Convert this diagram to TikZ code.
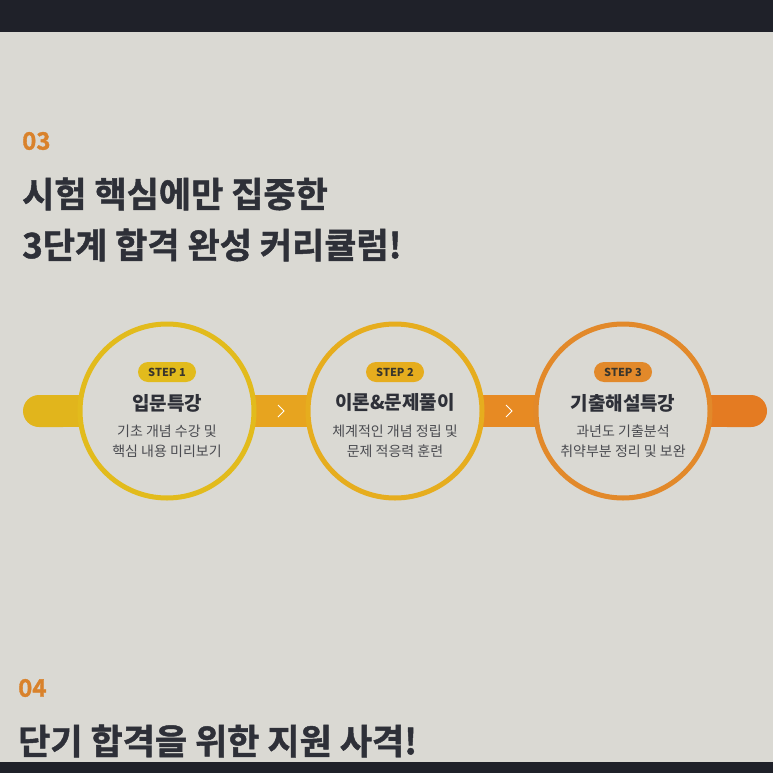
\documentclass[tikz,border=0pt]{standalone}
\usepackage{fontspec}
\newfontfamily\kr{Noto Sans CJK KR}
\newfontfamily\krhead[FakeBold=1.3]{Noto Sans CJK KR Bold}
\usetikzlibrary{arrows.meta,positioning,backgrounds}

\definecolor{screen}{HTML}{DAD9D3}
\definecolor{bezel}{HTML}{1F2129}
\definecolor{ink}{HTML}{2E3038}
\definecolor{numorange}{HTML}{D9822B}
\definecolor{descgray}{HTML}{4A4B50}
\definecolor{badgeink}{HTML}{3A362C}
\definecolor{stepA}{HTML}{E2BB1C}
\definecolor{stepB}{HTML}{E6AD1E}
\definecolor{stepC}{HTML}{E2892A}
\definecolor{barA}{HTML}{E1B51C}
\definecolor{barB}{HTML}{E7A41F}
\definecolor{barC}{HTML}{E78A23}
\definecolor{barD}{HTML}{E47B22}

\begin{document}
\begin{tikzpicture}[
  x=1pt, y=-1pt,
  node distance=49pt,
  ring/.style={circle, draw, line width=5pt, minimum size=174pt, inner sep=0pt},
  badge/.style={rounded corners=10pt, minimum width=58pt, minimum height=20pt, inner sep=0pt, text=badgeink, font=\kr\bfseries\fontsize{11}{11}\selectfont},
  title/.style={inner sep=0pt, text=ink, font=\kr\bfseries\fontsize{19}{19}\selectfont},
  desc/.style={inner sep=0pt, align=center, text=descgray, font=\kr\fontsize{14}{20}\selectfont},
  num/.style={anchor=west, inner sep=0pt, text=numorange, font=\krhead\fontsize{24}{24}\selectfont},
  head/.style={anchor=west, inner sep=0pt, text=ink, font=\krhead\fontsize{35}{35}\selectfont},
  bar/.style={line width=32pt, shorten <=-4pt, shorten >=-4pt},
  chev/.style={draw=white, line width=1pt}
]
\useasboundingbox (0,0) rectangle (773,773);

% section 03 heading
\node[num] (n03) at (22,141) {03};
\node[head] (h1) at (22,194) {시험 핵심에만 집중한};
\node[head] (h2) at (22,245) {3단계 합격 완성 커리큘럼!};

% three steps
\node[ring, draw=stepA] (c1) at (167,411) {};
\node[ring, draw=stepB, right=of c1] (c2) {};
\node[ring, draw=stepC, right=of c2] (c3) {};

\node[badge, fill=stepA] (s1) at ([yshift=39pt]c1) {STEP 1};
\node[title] (t1) at ([yshift=8pt]c1) {입문특강};
\node[desc] (d1) at ([yshift=-30pt]c1) {기초 개념 수강 및\\핵심 내용 미리보기};

\node[badge, fill=stepB] (s2) at ([yshift=39pt]c2) {STEP 2};
\node[title] (t2) at ([yshift=8pt]c2) {이론\&문제풀이};
\node[desc] (d2) at ([yshift=-30pt]c2) {체계적인 개념 정립 및\\문제 적응력 훈련};

\node[badge, fill=stepC] (s3) at ([yshift=39pt]c3) {STEP 3};
\node[title] (t3) at ([yshift=8pt]c3) {기출해설특강};
\node[desc] (d3) at ([yshift=-30pt]c3) {과년도 기출분석\\취약부분 정리 및 보완};

\coordinate (barL) at (27,411);
\coordinate (barR) at (763,411);

% section 04 heading
\node[num] (n04) at (18,688) {04};
\node[head] (h3) at (18,741) {단기 합격을 위한 지원 사격!};

\begin{scope}[on background layer]
\fill[screen] (0,0) rectangle (773,773);
\fill[bezel] (0,0) rectangle (773,32);
\fill[bezel] (0,762) rectangle (773,773);
\draw[bar, draw=barA, {Round Cap[]}-] (barL) -- (c1);
\draw[bar, draw=barB] (c1) -- (c2) coordinate[midway] (m12);
\draw[bar, draw=barC] (c2) -- (c3) coordinate[midway] (m23);
\draw[bar, draw=barD, -{Round Cap[]}] (c3) -- (barR);
\end{scope}

\draw[chev] ([xshift=-3pt,yshift=6pt]m12) -- ([xshift=3pt]m12) -- ([xshift=-3pt,yshift=-6pt]m12);
\draw[chev] ([xshift=-3pt,yshift=6pt]m23) -- ([xshift=3pt]m23) -- ([xshift=-3pt,yshift=-6pt]m23);
\end{tikzpicture}
\end{document}
